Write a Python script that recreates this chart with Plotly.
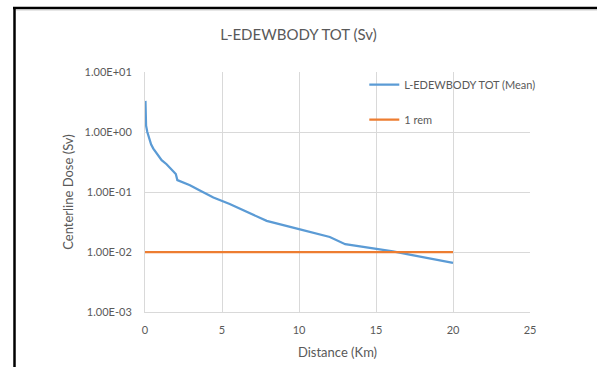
import plotly.graph_objects as go

# Data
distance_km = [0.03, 0.07, 0.15, 0.28, 0.4, 0.54, 0.76, 1.08, 1.4, 2.0, 2.1, 2.92, 3.5, 4.44, 5.5, 6.8, 7.9, 10.0, 12.0, 13.0, 15.0, 16.1, 20.0]
dose_mean_sv = [3.3, 1.27, 1.0, 0.77, 0.62, 0.53, 0.44, 0.34, 0.29, 0.20, 0.158, 0.13, 0.108, 0.081, 0.063, 0.044, 0.033, 0.024, 0.0178, 0.0135, 0.0113, 0.0102, 0.0066]
rem_x = [0, 20]
rem_y = [0.01, 0.01]

ytick_vals = [1e-3, 1e-2, 1e-1, 1e0, 1e1]
ytick_text = ["1.00E-03", "1.00E-02", "1.00E-01", "1.00E+00", "1.00E+01"]

FONT = "Lato"
GRAY = "#595959"
GRID = "#d9d9d9"

fig = go.Figure()
fig.add_trace(go.Scatter(x=distance_km, y=dose_mean_sv, mode="lines",
                         name="L-EDEWBODY TOT (Mean)",
                         line=dict(color="#5b9bd5", width=2.25),
                         legendgroup="a"))
fig.add_trace(go.Scatter(x=rem_x, y=rem_y, mode="lines", name="1 rem",
                         line=dict(color="#ed7d31", width=2.25),
                         legendgroup="b"))

fig.update_layout(
    width=597, height=369,
    margin=dict(l=145, r=67, t=72, b=53),
    paper_bgcolor="white", plot_bgcolor="white",
    font=dict(family=FONT, color=GRAY, size=11),
    title=dict(text="L-EDEWBODY TOT (Sv)", x=0.5, xanchor="center",
               y=1 - 35 / 369, yanchor="middle",
               font=dict(size=15, color=GRAY, family=FONT)),
    showlegend=True,
    legend=dict(x=(372 - 145) / 385 - 0.02, y=(316 - 70) / 244, xanchor="left", yanchor="top",
                bgcolor="rgba(0,0,0,0)", font=dict(size=11, color=GRAY),
                tracegroupgap=16, traceorder="grouped"),
    xaxis=dict(range=[0, 25], dtick=5, tick0=0, showgrid=True, gridcolor=GRID,
               gridwidth=1, zeroline=False, showline=True, linecolor=GRID,
               ticks="outside", ticklen=8, tickcolor="rgba(0,0,0,0)",
               tickfont=dict(size=11, color=GRAY),
               title=dict(text="Distance (Km)", font=dict(size=13, color=GRAY), standoff=12)),
    yaxis=dict(type="log", range=[-3, 1], tickvals=ytick_vals, ticktext=ytick_text,
               showgrid=True, gridcolor=GRID, gridwidth=1, zeroline=False,
               showline=True, linecolor=GRID,
               ticks="outside", ticklen=10, tickcolor="rgba(0,0,0,0)",
               tickfont=dict(size=11, color=GRAY),
               title=dict(text="Centerline Dose (Sv)", font=dict(size=13, color=GRAY), standoff=8)),
)

# Outer sheet borders (black) and faint spreadsheet line
fig.add_shape(type="line", xref="paper", yref="paper",
              x0=(13 - 145) / 385, x1=(600 - 145) / 385,
              y0=(316 - 7) / 244, y1=(316 - 7) / 244,
              line=dict(color="black", width=2.5))
fig.add_shape(type="line", xref="paper", yref="paper",
              x0=(14.5 - 145) / 385, x1=(14.5 - 145) / 385,
              y0=(316 - 6) / 244, y1=(316 - 372) / 244,
              line=dict(color="black", width=2.5))
fig.add_shape(type="line", xref="paper", yref="paper",
              x0=(16 - 145) / 385, x1=(600 - 145) / 385,
              y0=(316 - 9.5) / 244, y1=(316 - 9.5) / 244,
              line=dict(color="#e6e6e6", width=1))

fig.write_html("out.html", config={"displayModeBar": False},
               post_script="document.body.style.margin='0';")
